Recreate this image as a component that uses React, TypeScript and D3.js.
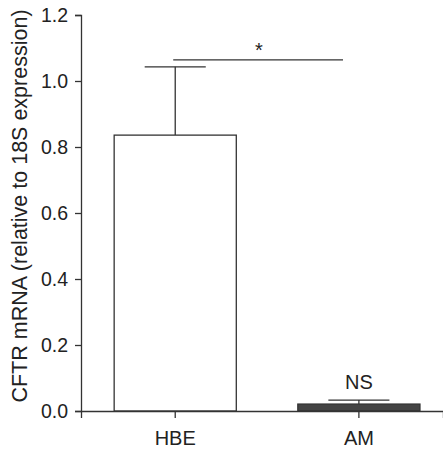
import { useEffect, useRef } from "react"
import { axisBottom, axisLeft, scaleBand, scaleLinear, select } from "d3"

const groups = ["HBE", "AM"]
const means = [0.836, 0.021]
const errTops = [1.043, 0.033]
const yTicks = [0.0, 0.2, 0.4, 0.6, 0.8, 1.0, 1.2]
const groupFills = ["#ffffff", "#444444"]
const sigLevel = 1.064
const sigLabel = "*"
const amLabel = "NS"

const W = 443
const H = 449
const FONT = "'Liberation Sans', Arial, Helvetica, sans-serif"
const INK = "#333"

function AxisLeft({ scale, x }) {
  const ref = useRef(null)
  useEffect(() => {
    if (ref.current) {
      const g = select(ref.current)
      g.call(axisLeft(scale).tickValues(yTicks).tickFormat((d) => d.toFixed(1)).tickSizeOuter(0).tickSize(6).tickPadding(7))
      g.select(".domain").attr("stroke", INK).attr("stroke-width", 1.3)
      g.selectAll(".tick line").attr("stroke", INK).attr("stroke-width", 1.3)
      g.selectAll(".tick text").attr("font-size", "19.5px").attr("font-family", FONT).attr("fill", "#222")
    }
  }, [scale])
  return <g ref={ref} transform={`translate(${x},0)`} />
}

function AxisBottom({ scale, y }) {
  const ref = useRef(null)
  useEffect(() => {
    if (ref.current) {
      const g = select(ref.current)
      g.call(axisBottom(scale).tickSizeOuter(0).tickSize(7).tickPadding(13))
      g.select(".domain").attr("stroke", INK).attr("stroke-width", 1.3)
      g.selectAll(".tick line").attr("stroke", INK).attr("stroke-width", 1.3)
      g.selectAll(".tick text").attr("font-size", "20px").attr("font-family", FONT).attr("fill", "#222")
    }
  }, [scale])
  return <g ref={ref} transform={`translate(0,${y})`} />
}

export default function App() {
  const left = 81
  const y = scaleLinear().domain([0, 1.2]).range([411, 15])
  const x = scaleBand().domain(groups).range([left, W]).paddingInner(0.335).paddingOuter(0.153).align(0.59)
  const bw = x.bandwidth()
  const cap = bw * 0.5

  return (
    <svg width={W} height={H} style={{ position: "absolute", left: 0, top: 0, background: "#fff" }}>
      {groups.map((gname, i) => {
        const cx = x(gname) + bw / 2
        return (
          <g key={gname}>
            <line x1={cx} x2={cx} y1={y(means[i])} y2={y(errTops[i])} stroke={INK} strokeWidth={1.3} />
            <line x1={cx - cap / 2} x2={cx + cap / 2} y1={y(errTops[i])} y2={y(errTops[i])} stroke={INK} strokeWidth={1.3} />
            <rect
              x={x(gname)}
              y={y(means[i])}
              width={bw}
              height={y(0) - y(means[i])}
              fill={groupFills[i]}
              stroke={INK}
              strokeWidth={1.3}
            />
          </g>
        )
      })}
      <AxisBottom scale={x} y={y(0)} />
      <AxisLeft scale={y} x={left} />
      {/* significance bracket */}
      <line x1={x("HBE") + bw / 2 - 2} x2={x("AM") + bw * 0.37} y1={y(sigLevel)} y2={y(sigLevel)} stroke={INK} strokeWidth={1.3} />
      <text x={259} y={y(sigLevel) - 3} textAnchor="middle" fontSize="20px" fontFamily={FONT} fill="#222">
        {sigLabel}
      </text>
      <text x={x("AM") + bw / 2} y={388.5} textAnchor="middle" fontSize="20px" fontFamily={FONT} fill="#222">
        {amLabel}
      </text>
      <text
        transform={`translate(26.5,206) rotate(-90)`}
        textAnchor="middle"
        fontSize="21.5px"
        fontFamily={FONT}
        fill="#222"
      >
        CFTR mRNA (relative to 18S expression)
      </text>
    </svg>
  )
}
